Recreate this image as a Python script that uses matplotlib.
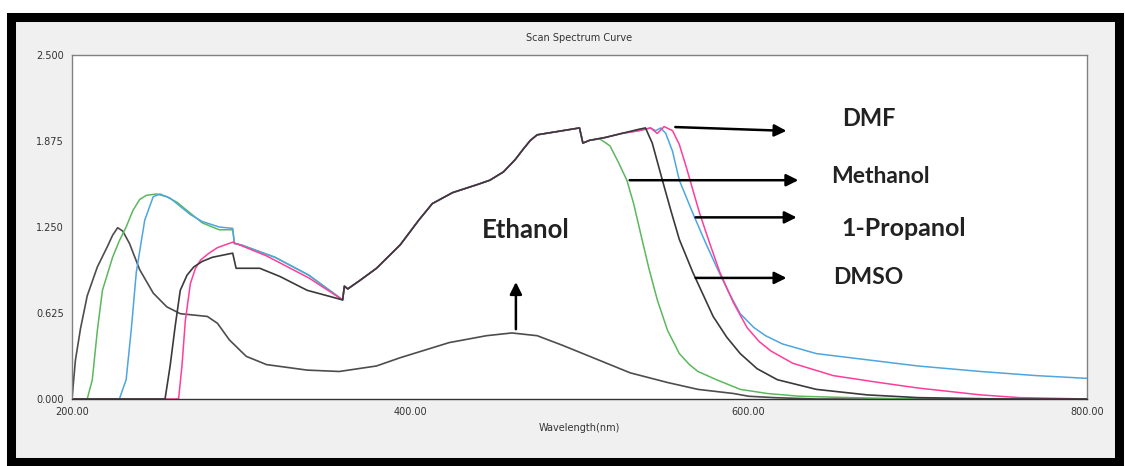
#!/usr/bin/env python
import numpy as np
import matplotlib as mpl
mpl.use('Agg')
import matplotlib.pyplot as plt
from matplotlib.patches import Rectangle

# shared part of the four solvent curves (360-506 nm)
mid_wl = [361, 363, 370, 380, 394, 405, 413, 425, 440, 447, 455, 462,
          467, 471, 475, 485, 500, 502, 506]
mid_abs = [0.82, 0.80, 0.86, 0.95, 1.12, 1.30, 1.42, 1.50, 1.56, 1.59, 1.65,
           1.74, 1.82, 1.88, 1.92, 1.94, 1.97, 1.86, 1.88]

ethanol_wl = [200, 202, 205, 209, 215, 221, 224, 227, 230, 234, 240, 248,
              256, 264, 272, 280, 286, 293, 303, 315, 339, 358, 380, 394,
              423, 445, 460, 475, 490, 512, 530, 552, 570, 591, 600, 615,
              640, 800]
ethanol_abs = [0.0, 0.28, 0.51, 0.75, 0.96, 1.11, 1.19, 1.245, 1.22, 1.13,
               0.94, 0.77, 0.67, 0.62, 0.61, 0.60, 0.55, 0.43, 0.31, 0.25,
               0.21, 0.20, 0.24, 0.30, 0.41, 0.46, 0.48, 0.46, 0.39, 0.28,
               0.19, 0.12, 0.07, 0.04, 0.02, 0.01, 0.0, 0.0]

methanol_wl = ([200, 209, 212, 215, 218, 224, 228, 232, 236, 240, 244, 250,
                256, 262, 268, 277, 287, 295, 296, 300, 320, 340, 360] + mid_wl +
               [512, 518, 523, 528, 532, 536, 541, 546, 552, 559, 565, 570,
                581, 595, 611, 630, 660, 700, 800])
methanol_abs = ([0.0, 0.0, 0.14, 0.50, 0.79, 1.03, 1.15, 1.25, 1.37, 1.45,
                 1.48, 1.49, 1.47, 1.43, 1.37, 1.28, 1.23, 1.23, 1.13, 1.12,
                 1.03, 0.90, 0.72] + mid_abs +
                [1.89, 1.84, 1.72, 1.59, 1.42, 1.21, 0.95, 0.72, 0.50, 0.33,
                 0.25, 0.20, 0.14, 0.07, 0.04, 0.02, 0.01, 0.0, 0.0])

propanol_wl = ([200, 228, 232, 235, 238, 243, 248, 252, 258, 264, 270, 277,
                287, 295, 296, 300, 320, 340, 360] + mid_wl +
               [515, 525, 535, 542, 545, 548, 551, 555, 559, 567, 574, 581,
                588, 595, 603, 610, 620, 640, 660, 680, 700, 737, 770, 800])
propanol_abs = ([0.0, 0.0, 0.14, 0.50, 0.92, 1.30, 1.47, 1.49, 1.46, 1.40,
                 1.34, 1.29, 1.25, 1.24, 1.13, 1.12, 1.03, 0.90, 0.72] + mid_abs +
                [1.90, 1.93, 1.95, 1.97, 1.95, 1.97, 1.93, 1.80, 1.59, 1.35,
                 1.15, 0.96, 0.78, 0.62, 0.52, 0.46, 0.40, 0.33, 0.30, 0.27,
                 0.24, 0.20, 0.17, 0.15])

dmf_wl = ([200, 263, 265, 267, 270, 273, 276, 281, 286, 295, 299, 315, 340,
           360] + mid_wl +
          [515, 525, 535, 542, 546, 550, 555, 559, 563, 567, 571, 577, 583,
           591, 599, 606, 613, 626, 650, 677, 700, 737, 760, 800])
dmf_abs = ([0.0, 0.0, 0.24, 0.57, 0.84, 0.95, 1.01, 1.06, 1.10, 1.14, 1.12,
            1.04, 0.88, 0.72] + mid_abs +
           [1.90, 1.93, 1.95, 1.97, 1.93, 1.98, 1.95, 1.85, 1.69, 1.52, 1.35,
            1.13, 0.92, 0.70, 0.52, 0.42, 0.35, 0.26, 0.17, 0.12, 0.08, 0.03,
            0.01, 0.0])

dmso_wl = ([200, 255, 258, 261, 264, 268, 272, 277, 283, 295, 297, 311, 323,
            339, 360] + mid_wl +
           [515, 525, 535, 539, 543, 549, 554, 559, 567, 579, 587, 595, 605,
            617, 640, 670, 700, 750, 800])
dmso_abs = ([0.0, 0.0, 0.24, 0.53, 0.79, 0.90, 0.96, 1.00, 1.03, 1.06, 0.95,
             0.95, 0.89, 0.79, 0.72] + mid_abs +
            [1.90, 1.93, 1.96, 1.97, 1.86, 1.59, 1.37, 1.16, 0.92, 0.60, 0.45,
             0.33, 0.22, 0.14, 0.07, 0.03, 0.01, 0.0, 0.0])

y_ticks = [0.0, 0.625, 1.25, 1.875, 2.5]
y_tick_labels = ['0.000', '0.625', '1.250', '1.875', '2.500']
x_ticks = [200, 400, 600, 800]
x_tick_labels = ['200.00', '400.00', '600.00', '800.00']

fig = plt.figure(figsize=(11.25, 4.66), dpi=100)
fig.patch.set_facecolor('white')

# window frame: thick black border on grey panel
W, H = 1125.0, 466.0
frame = Rectangle((11 / W, 4 / H), 1108 / W, 445 / H,
                  transform=fig.transFigure, facecolor='#f0f0f0',
                  edgecolor='black', linewidth=6.5, zorder=-10)
fig.patches.append(frame)

ax = fig.add_axes([72 / W, 67 / H, 1015 / W, 344 / H])
ax.set_facecolor('white')

ax.plot(ethanol_wl, ethanol_abs, color='#4d4d4d', lw=1.2)
ax.plot(methanol_wl, methanol_abs, color='#5cb85c', lw=1.1)
ax.plot(propanol_wl, propanol_abs, color='#4da6e0', lw=1.1)
ax.plot(dmf_wl, dmf_abs, color='#ff3d9a', lw=1.1)
ax.plot(dmso_wl, dmso_abs, color='#3a3a3a', lw=1.2)

ax.set_xlim(200, 800)
ax.set_ylim(0, 2.5)
ax.set_xticks(x_ticks)
ax.set_xticklabels(x_tick_labels)
ax.set_yticks(y_ticks)
ax.set_yticklabels(y_tick_labels)
ax.tick_params(length=0, labelsize=7, colors='#333333', pad=6)
for s in ax.spines.values():
    s.set_color('#808080')
    s.set_linewidth(1.0)
ax.spines['bottom'].set_color('#333333')

ax.set_xlabel('Wavelength(nm)', fontsize=7, color='#333333', labelpad=4)
ax.set_title('Scan Spectrum Curve', fontsize=7, color='#333333', pad=10)

# annotation arrows
arrow = dict(arrowstyle='-|>', color='black', lw=1.8, mutation_scale=18)
ax.annotate('', xy=(624, 1.948), xytext=(555, 1.977), arrowprops=arrow)
ax.annotate('', xy=(631, 1.59), xytext=(528, 1.59), arrowprops=arrow)
ax.annotate('', xy=(630, 1.32), xytext=(567, 1.32), arrowprops=arrow)
ax.annotate('', xy=(624, 0.88), xytext=(567, 0.88), arrowprops=arrow)
ax.annotate('', xy=(462.4, 0.87), xytext=(462.4, 0.487), arrowprops=arrow)

lbl = dict(fontweight='bold', family='Lato', color='#222222',
           va='center', ha='left')
ax.text(655, 2.04, 'DMF', fontsize=17, **lbl)
ax.text(649, 1.62, 'Methanol', fontsize=16.5, **lbl)
ax.text(655, 1.24, '1-Propanol', fontsize=18, **lbl)
ax.text(650, 0.88, 'DMSO', fontsize=16.5, **lbl)
ax.text(442.5, 1.23, 'Ethanol', fontsize=18.5, **lbl)

plt.savefig('out.png', dpi=100)
